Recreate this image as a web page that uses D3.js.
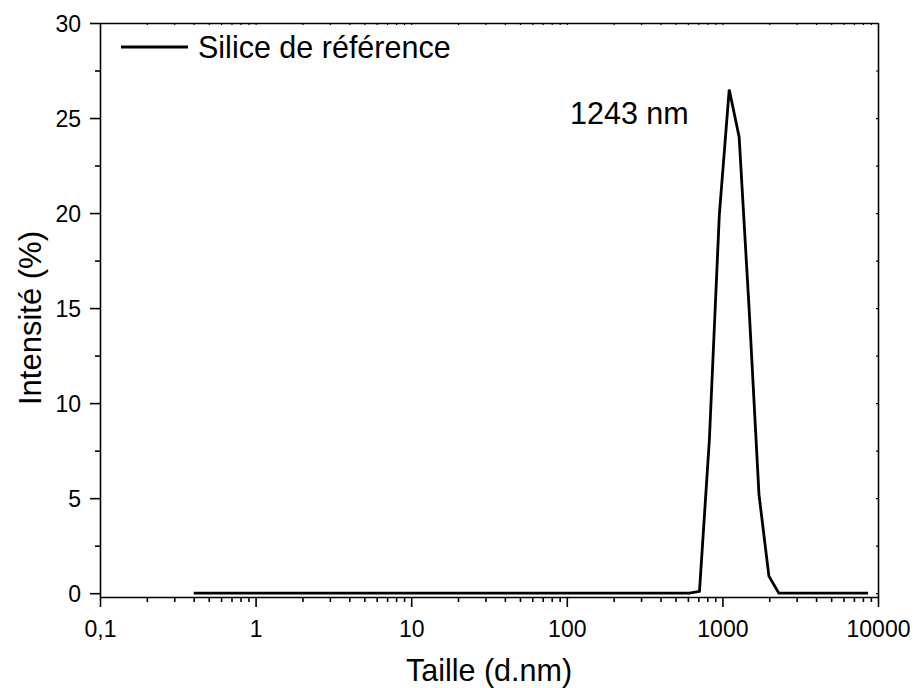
<!DOCTYPE html>
<html>
<head>
<meta charset="utf-8">
<script src="https://cdn.jsdelivr.net/npm/d3@7"></script>
<style>
  body { margin: 0; background: #fff; }
  text { font-family: "Liberation Sans", Arial, sans-serif; fill: #000; }
</style>
</head>
<body>
<svg id="chart" width="914" height="688"></svg>
<script>
// size bins (d.nm) and intensity (%)
const sizes = [0.4, 0.4632, 0.5365, 0.6213, 0.7195, 0.8332, 0.9649, 1.117, 1.294, 1.499,
  1.736, 2.010, 2.328, 2.696, 3.122, 3.615, 4.187, 4.849, 5.615, 6.503,
  7.531, 8.721, 10.10, 11.70, 13.54, 15.69, 18.17, 21.04, 24.36, 28.21,
  32.67, 37.84, 43.82, 50.75, 58.77, 68.06, 78.82, 91.28, 105.7, 122.4,
  141.8, 164.2, 190.1, 220.2, 255.0, 295.3, 342.0, 396.1, 458.7, 531.2,
  615.1, 712.4, 825.0, 955.4, 1106, 1281, 1484, 1718, 1990, 2305,
  2669, 3091, 3580, 4145, 4801, 5560, 6439, 7456, 8635];
const intensity = [0, 0, 0, 0, 0, 0, 0, 0, 0, 0,
  0, 0, 0, 0, 0, 0, 0, 0, 0, 0,
  0, 0, 0, 0, 0, 0, 0, 0, 0, 0,
  0, 0, 0, 0, 0, 0, 0, 0, 0, 0,
  0, 0, 0, 0, 0, 0, 0, 0, 0, 0,
  0, 0.1, 8.1, 19.9, 26.5, 24.0, 15.0, 5.2, 0.9, 0,
  0, 0, 0, 0, 0, 0, 0, 0, 0];

const xTicks = [0.1, 1, 10, 100, 1000, 10000];
const xTickLabels = ["0,1", "1", "10", "100", "1000", "10000"];
const yTicks = [0, 5, 10, 15, 20, 25, 30];

const seriesName = "Silice de référence";
const peakLabel = "1243 nm";
const xTitle = "Taille (d.nm)";
const yTitle = "Intensité (%)";

const margins = { left: 100, right: 36, top: 23, bottom: 91 };
const W = 914, H = 688;

const svg = d3.select("#chart");

let xScale = d3.scaleLog()
  .domain([0.1, 10000])
  .range([margins.left, W - margins.right]);

let yScale = d3.scaleLinear()
  .domain([-0.2, 30])
  .range([H - margins.bottom, margins.top]);

// minor ticks: 2..9 in each decade, and half steps on y
let xMinor = [];
for (let i = 0; i < xTicks.length - 1; i++) {
  for (let m = 2; m <= 9; m++) xMinor.push(xTicks[i] * m);
}
let yMinor = yTicks.slice(0, -1).map(v => v + 2.5);

const bottomY = H - margins.bottom;
const rightX = W - margins.right;

// bottom axis
svg.append("g")
  .attr("transform", `translate(0, ${bottomY})`)
  .call(d3.axisBottom(xScale).tickValues(xMinor).tickSize(5).tickFormat(""))
  .call(g => g.select(".domain").remove())
  .call(g => g.selectAll("line").attr("stroke-width", 1.6));

svg.append("g")
  .attr("transform", `translate(0, ${bottomY})`)
  .call(d3.axisBottom(xScale).tickValues(xTicks).tickSize(10).tickSizeOuter(0)
    .tickFormat((d, i) => xTickLabels[i]))
  .call(g => g.select(".domain").attr("stroke-width", 1.6))
  .call(g => g.selectAll("line").attr("stroke-width", 1.6))
  .call(g => g.selectAll("text").attr("font-size", 23).attr("dy", 0).attr("y", 40));

// left axis
svg.append("g")
  .attr("transform", `translate(${margins.left}, 0)`)
  .call(d3.axisLeft(yScale).tickValues(yMinor).tickSize(5).tickFormat(""))
  .call(g => g.select(".domain").remove())
  .call(g => g.selectAll("line").attr("stroke-width", 1.6));

svg.append("g")
  .attr("transform", `translate(${margins.left}, 0)`)
  .call(d3.axisLeft(yScale).tickValues(yTicks).tickSize(10).tickSizeOuter(0))
  .call(g => g.select(".domain").attr("stroke-width", 1.6))
  .call(g => g.selectAll("line").attr("stroke-width", 1.6))
  .call(g => g.selectAll("text").attr("font-size", 23).attr("x", -19).attr("dy", "0.35em"));

// top and right frame with small inward ticks
svg.append("g")
  .attr("transform", `translate(0, ${margins.top})`)
  .call(d3.axisBottom(xScale).tickValues(xTicks.concat(xMinor)).tickSize(2).tickSizeOuter(0).tickFormat(""))
  .call(g => g.select(".domain").attr("stroke-width", 1.6))
  .call(g => g.selectAll("line").attr("stroke-width", 1.2));

svg.append("g")
  .attr("transform", `translate(${rightX}, 0)`)
  .call(d3.axisLeft(yScale).tickValues(yTicks.concat(yMinor)).tickSize(2).tickSizeOuter(0).tickFormat(""))
  .call(g => g.select(".domain").attr("stroke-width", 1.6))
  .call(g => g.selectAll("line").attr("stroke-width", 1.2));

// data line
let line = d3.line()
  .x((d, i) => xScale(sizes[i]))
  .y(d => yScale(d));

svg.append("path")
  .datum(intensity)
  .attr("d", line)
  .attr("fill", "none")
  .attr("stroke", "#000")
  .attr("stroke-width", 2.8)
  .attr("stroke-linejoin", "miter");

// legend
svg.append("line")
  .attr("x1", 121).attr("x2", 188)
  .attr("y1", 47).attr("y2", 47)
  .attr("stroke", "#000")
  .attr("stroke-width", 2.8);

svg.append("text")
  .attr("x", 198).attr("y", 58)
  .attr("font-size", 30.5)
  .text(seriesName);

// peak annotation
svg.append("text")
  .attr("x", 570).attr("y", 124)
  .attr("font-size", 30.5)
  .text(peakLabel);

// axis titles
svg.append("text")
  .attr("x", (margins.left + rightX) / 2)
  .attr("y", 681)
  .attr("text-anchor", "middle")
  .attr("font-size", 30.5)
  .text(xTitle);

svg.append("text")
  .attr("transform", `translate(41, 318) rotate(-90)`)
  .attr("text-anchor", "middle")
  .attr("font-size", 31)
  .text(yTitle);
</script>
</body>
</html>
